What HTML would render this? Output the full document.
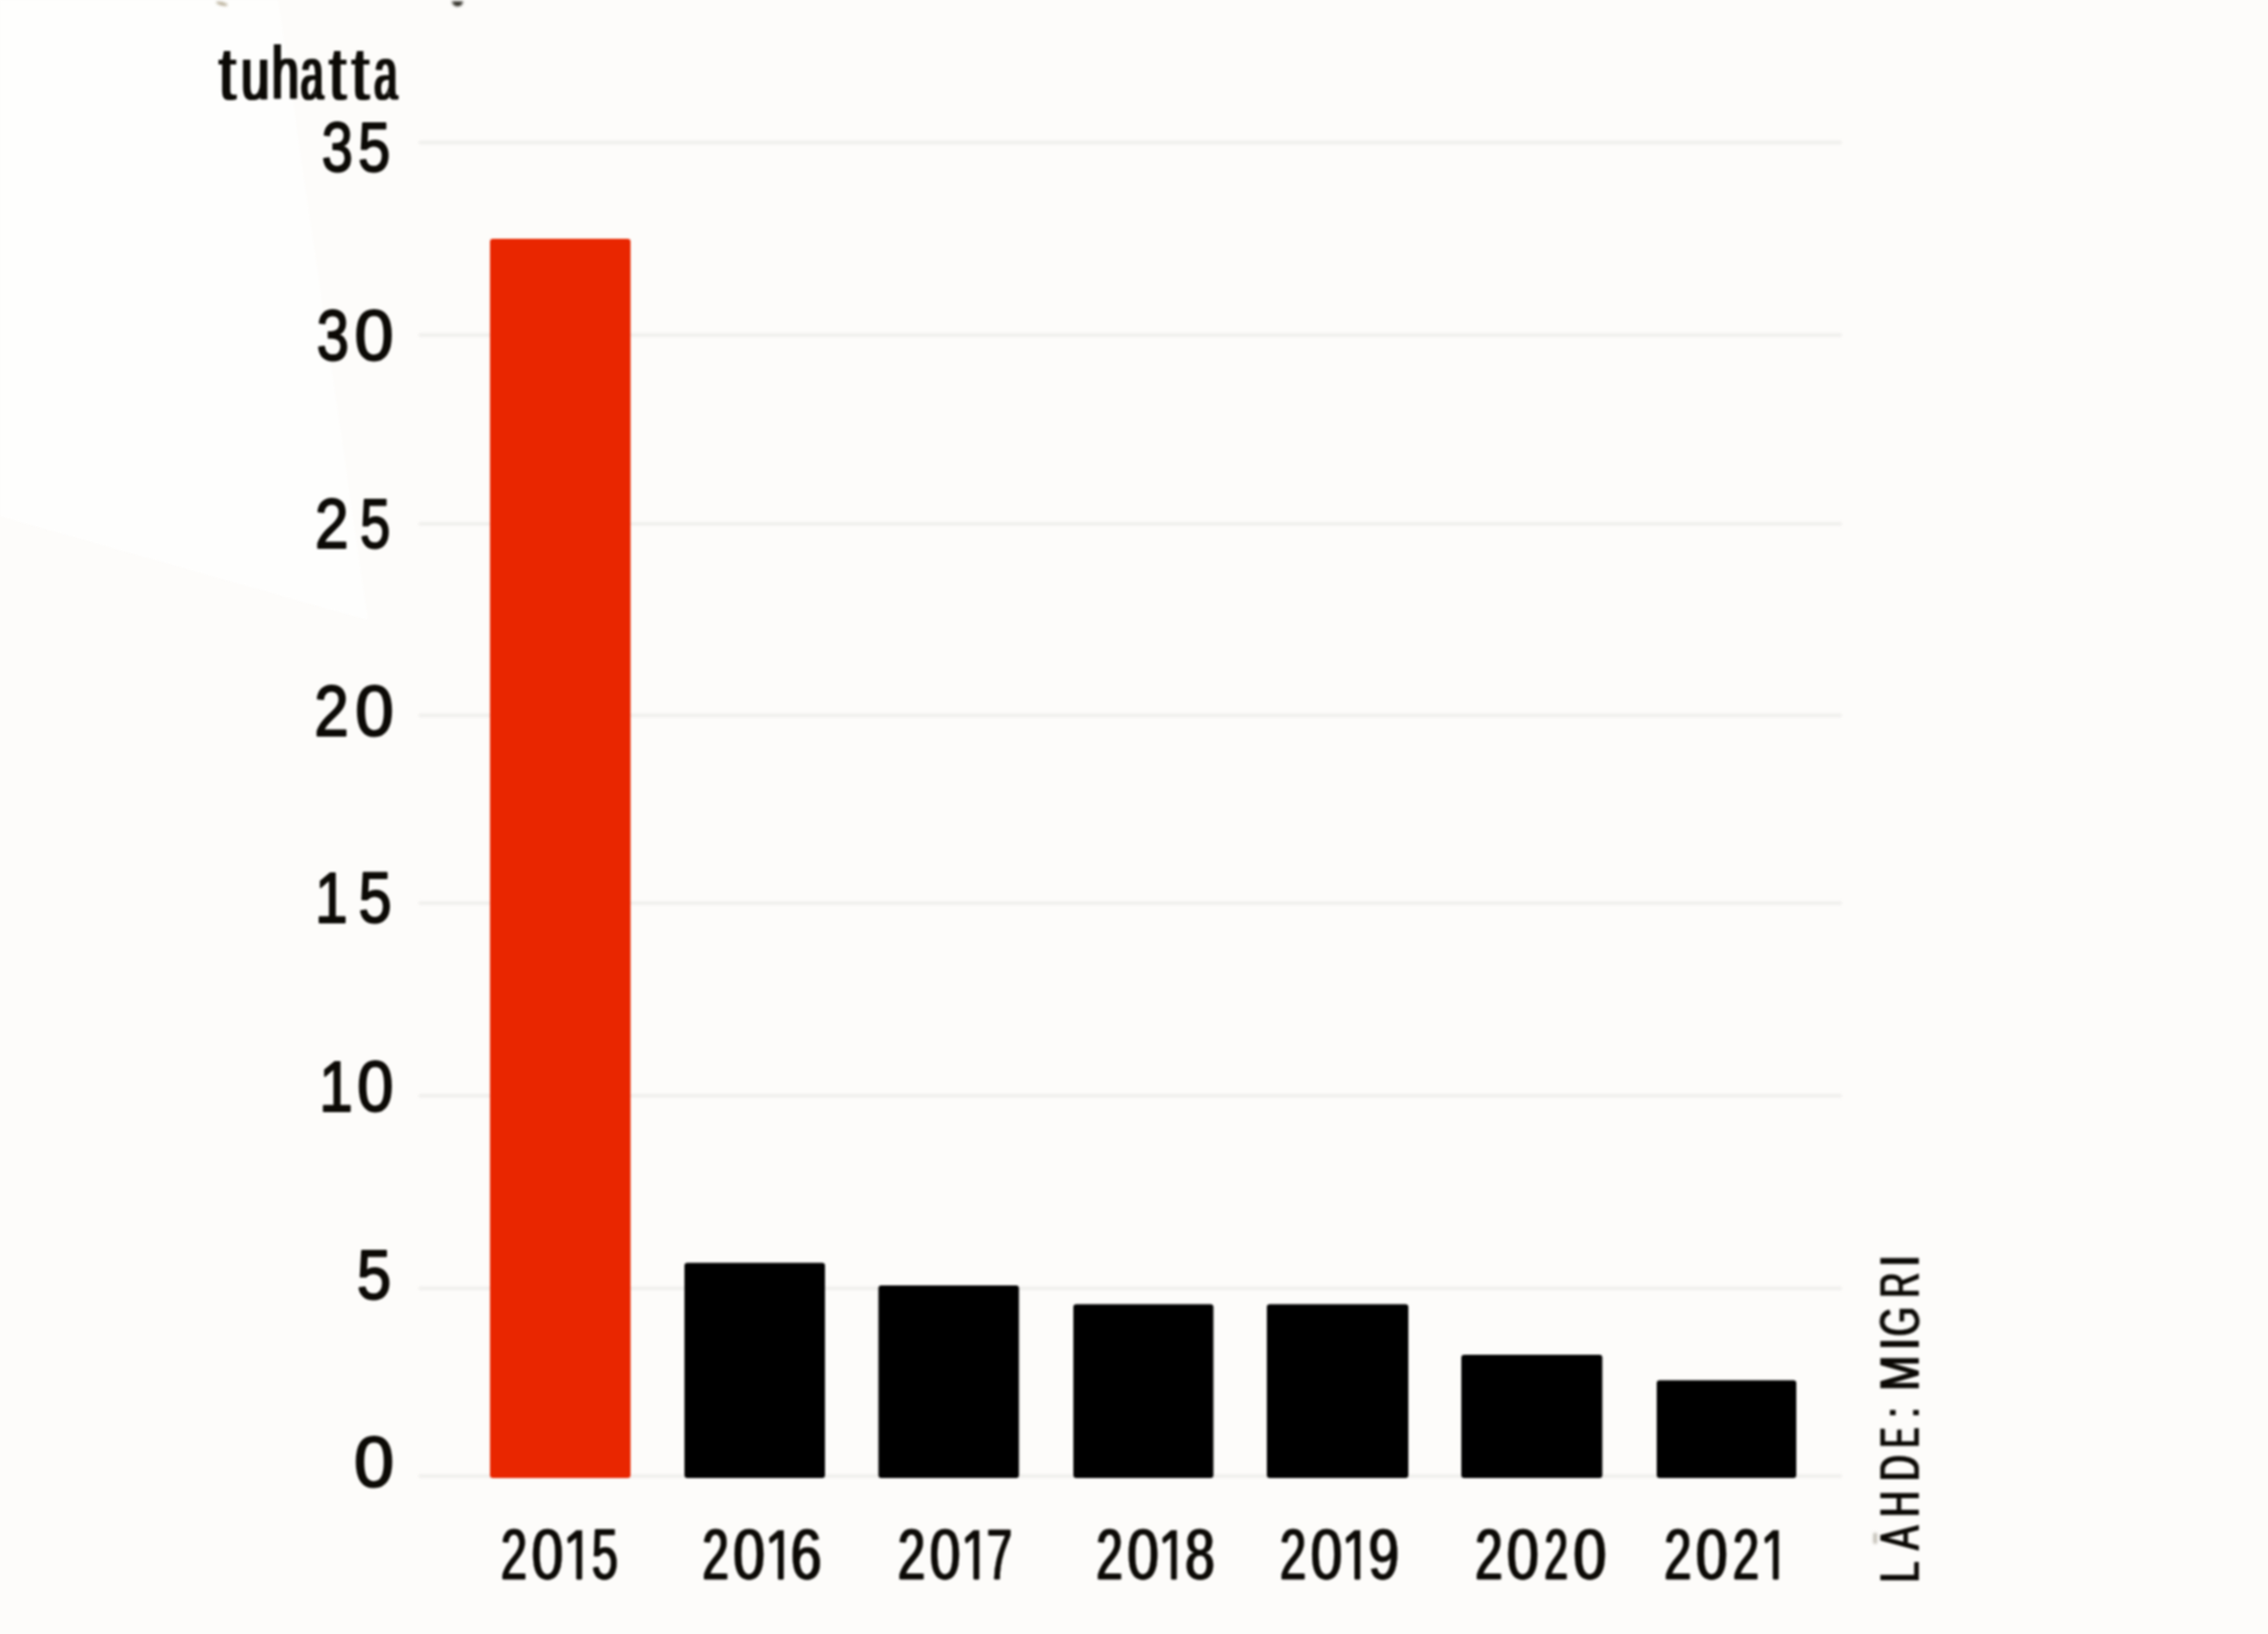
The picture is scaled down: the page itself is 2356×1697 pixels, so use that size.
<!DOCTYPE html>
<html><head><meta charset="utf-8">
<style>
html,body{margin:0;padding:0;background:#fdfcfa;}
body{width:2356px;height:1697px;overflow:hidden;position:relative;font-family:"Liberation Sans",sans-serif;}
svg{position:absolute;left:0;top:0;display:block}
text{font-family:"Liberation Sans",sans-serif;fill:#0c0a06}
</style></head><body>
<svg width="2356" height="1697" viewBox="0 0 2356 1697">
<defs>
<filter id="b1" color-interpolation-filters="sRGB" x="-5%" y="-50%" width="110%" height="200%"><feGaussianBlur stdDeviation="1"/></filter>
<filter id="b2" color-interpolation-filters="sRGB" x="-50%" y="-50%" width="200%" height="200%"><feGaussianBlur stdDeviation="0.9"/></filter>
<filter id="soft" color-interpolation-filters="sRGB" x="-2%" y="-2%" width="104%" height="104%"><feGaussianBlur stdDeviation="1.0"/></filter>
</defs>
<rect x="0" y="0" width="2356" height="1697" fill="#fdfcfa"/>
<!-- slightly whiter wedge, top-left -->
<polygon points="0,0 289,0 382,644 0,536" fill="#fefefd" filter="url(#b2)"/>
<g filter="url(#soft)">
<!-- gridlines -->
<g stroke="#e9e8e5" stroke-width="2.6" fill="none" filter="url(#b1)">
<line x1="435" x2="1913" y1="148" y2="148"/>
<line x1="435" x2="1913" y1="348" y2="348"/>
<line x1="435" x2="1913" y1="544" y2="544"/>
<line x1="435" x2="1913" y1="743" y2="743"/>
<line x1="435" x2="1913" y1="938" y2="938"/>
<line x1="435" x2="1913" y1="1138" y2="1138"/>
<line x1="435" x2="1913" y1="1338" y2="1338"/>
<line x1="435" x2="1913" y1="1533" y2="1533"/>
</g>
<line x1="1893" x2="1913" y1="1533.2" y2="1533.2" stroke="#d9d8d5" stroke-width="2.4" filter="url(#b1)"/>
<!-- bars -->
<rect x="509" y="248" width="146" height="1287" rx="3" fill="#e92600"/>
<g fill="#000">
<rect x="711" y="1311.5" width="146" height="223.5" rx="3"/>
<rect x="912.5" y="1335" width="146" height="200" rx="3"/>
<rect x="1115" y="1354.5" width="145.5" height="180.5" rx="3"/>
<rect x="1316" y="1354.5" width="147" height="180.5" rx="3"/>
<rect x="1518" y="1407" width="146.5" height="128" rx="3"/>
<rect x="1721" y="1433.5" width="145" height="101.5" rx="3"/>
</g>
<!-- y axis labels -->
<text transform="matrix(0.5815 0 0 0.7174 334.20 177.90)" font-size="100" stroke="#0c0a06" stroke-width="2.8" stroke-linejoin="round">3</text>
<text transform="matrix(0.6014 0 0 0.7174 372.03 177.90)" font-size="100" stroke="#0c0a06" stroke-width="2.8" stroke-linejoin="round">5</text>
<text transform="matrix(0.6034 0 0 0.7323 328.95 373.66)" font-size="100" stroke="#0c0a06" stroke-width="2.8" stroke-linejoin="round">3</text>
<text transform="matrix(0.7292 0 0 0.7323 368.17 373.66)" font-size="100" stroke="#0c0a06" stroke-width="2.8" stroke-linejoin="round">0</text>
<text transform="matrix(0.6266 0 0 0.7283 327.13 568.87)" font-size="100" stroke="#0c0a06" stroke-width="2.8" stroke-linejoin="round">2</text>
<text transform="matrix(0.5656 0 0 0.7283 373.93 568.87)" font-size="100" stroke="#0c0a06" stroke-width="2.8" stroke-linejoin="round">5</text>
<text transform="matrix(0.6431 0 0 0.7391 326.57 763.94)" font-size="100" stroke="#0c0a06" stroke-width="2.8" stroke-linejoin="round">2</text>
<text transform="matrix(0.7193 0 0 0.7391 368.90 763.94)" font-size="100" stroke="#0c0a06" stroke-width="2.8" stroke-linejoin="round">0</text>
<text transform="matrix(0.6098 0 0 0.7385 327.21 958.44)" font-size="100" stroke="#0c0a06" stroke-width="2.8" stroke-linejoin="round">1</text>
<text transform="matrix(0.6174 0 0 0.7385 372.39 958.44)" font-size="100" stroke="#0c0a06" stroke-width="2.8" stroke-linejoin="round">5</text>
<text transform="matrix(0.6294 0 0 0.7337 331.49 1153.66)" font-size="100" stroke="#0c0a06" stroke-width="2.8" stroke-linejoin="round">1</text>
<text transform="matrix(0.6778 0 0 0.7337 371.10 1153.66)" font-size="100" stroke="#0c0a06" stroke-width="2.8" stroke-linejoin="round">0</text>
<text transform="matrix(0.6393 0 0 0.7303 370.84 1348.56)" font-size="100" stroke="#0c0a06" stroke-width="2.8" stroke-linejoin="round">5</text>
<text transform="matrix(0.7470 0 0 0.7459 367.73 1543.63)" font-size="100" stroke="#0c0a06" stroke-width="2.8" stroke-linejoin="round">0</text>
<!-- x axis labels -->
<text transform="matrix(0.4907 0 0 0.7405 519.45 1639.69)" font-size="100" stroke="#0c0a06" stroke-width="0.5" stroke-linejoin="round">2</text>
<text transform="matrix(0.4907 0 0 0.7405 521.05 1639.69)" font-size="100" stroke="#0c0a06" stroke-width="0.5" stroke-linejoin="round">2</text>
<text transform="matrix(0.5921 0 0 0.7405 551.44 1639.69)" font-size="100" stroke="#0c0a06" stroke-width="0.5" stroke-linejoin="round">0</text>
<text transform="matrix(0.5921 0 0 0.7405 553.04 1639.69)" font-size="100" stroke="#0c0a06" stroke-width="0.5" stroke-linejoin="round">0</text>
<text transform="matrix(0.4884 0 0 0.7405 613.97 1639.69)" font-size="100" stroke="#0c0a06" stroke-width="0.5" stroke-linejoin="round">5</text>
<text transform="matrix(0.4884 0 0 0.7405 615.57 1639.69)" font-size="100" stroke="#0c0a06" stroke-width="0.5" stroke-linejoin="round">5</text>
<path fill="#0c0a06" d="M598.60 1589.30 L604.70 1589.30 L604.70 1639.20 Q604.70 1640.40 603.50 1640.40 L599.80 1640.40 Q598.60 1640.40 598.60 1639.20 L598.60 1597.20 L592.00 1602.60 Q590.00 1603.30 589.60 1601.20 L589.40 1598.20 Q589.30 1596.60 591.00 1595.80 Z"/>
<text transform="matrix(0.4929 0 0 0.7405 728.84 1639.69)" font-size="100" stroke="#0c0a06" stroke-width="0.5" stroke-linejoin="round">2</text>
<text transform="matrix(0.4929 0 0 0.7405 730.44 1639.69)" font-size="100" stroke="#0c0a06" stroke-width="0.5" stroke-linejoin="round">2</text>
<text transform="matrix(0.5921 0 0 0.7405 760.84 1639.69)" font-size="100" stroke="#0c0a06" stroke-width="0.5" stroke-linejoin="round">0</text>
<text transform="matrix(0.5921 0 0 0.7405 762.44 1639.69)" font-size="100" stroke="#0c0a06" stroke-width="0.5" stroke-linejoin="round">0</text>
<text transform="matrix(0.5767 0 0 0.7405 820.62 1639.69)" font-size="100" stroke="#0c0a06" stroke-width="0.5" stroke-linejoin="round">6</text>
<text transform="matrix(0.5767 0 0 0.7405 822.22 1639.69)" font-size="100" stroke="#0c0a06" stroke-width="0.5" stroke-linejoin="round">6</text>
<path fill="#0c0a06" d="M808.10 1589.30 L814.20 1589.30 L814.20 1639.20 Q814.20 1640.40 813.00 1640.40 L809.30 1640.40 Q808.10 1640.40 808.10 1639.20 L808.10 1597.20 L801.60 1602.60 Q799.60 1603.30 799.20 1601.20 L799.00 1598.20 Q798.90 1596.60 800.60 1595.80 Z"/>
<text transform="matrix(0.5124 0 0 0.7405 931.85 1639.69)" font-size="100" stroke="#0c0a06" stroke-width="0.5" stroke-linejoin="round">2</text>
<text transform="matrix(0.5124 0 0 0.7405 933.45 1639.69)" font-size="100" stroke="#0c0a06" stroke-width="0.5" stroke-linejoin="round">2</text>
<text transform="matrix(0.5735 0 0 0.7405 964.90 1639.69)" font-size="100" stroke="#0c0a06" stroke-width="0.5" stroke-linejoin="round">0</text>
<text transform="matrix(0.5735 0 0 0.7405 966.50 1639.69)" font-size="100" stroke="#0c0a06" stroke-width="0.5" stroke-linejoin="round">0</text>
<text transform="matrix(0.4765 0 0 0.7405 1024.18 1639.69)" font-size="100" stroke="#0c0a06" stroke-width="0.5" stroke-linejoin="round">7</text>
<text transform="matrix(0.4765 0 0 0.7405 1025.78 1639.69)" font-size="100" stroke="#0c0a06" stroke-width="0.5" stroke-linejoin="round">7</text>
<path fill="#0c0a06" d="M1011.20 1589.30 L1017.30 1589.30 L1017.30 1639.20 Q1017.30 1640.40 1016.10 1640.40 L1012.40 1640.40 Q1011.20 1640.40 1011.20 1639.20 L1011.20 1597.20 L1005.00 1602.60 Q1003.00 1603.30 1002.60 1601.20 L1002.40 1598.20 Q1002.30 1596.60 1004.00 1595.80 Z"/>
<text transform="matrix(0.4929 0 0 0.7405 1138.04 1639.69)" font-size="100" stroke="#0c0a06" stroke-width="0.5" stroke-linejoin="round">2</text>
<text transform="matrix(0.4929 0 0 0.7405 1139.64 1639.69)" font-size="100" stroke="#0c0a06" stroke-width="0.5" stroke-linejoin="round">2</text>
<text transform="matrix(0.5900 0 0 0.7405 1170.14 1639.69)" font-size="100" stroke="#0c0a06" stroke-width="0.5" stroke-linejoin="round">0</text>
<text transform="matrix(0.5900 0 0 0.7405 1171.74 1639.69)" font-size="100" stroke="#0c0a06" stroke-width="0.5" stroke-linejoin="round">0</text>
<text transform="matrix(0.5504 0 0 0.7405 1230.35 1639.69)" font-size="100" stroke="#0c0a06" stroke-width="0.5" stroke-linejoin="round">8</text>
<text transform="matrix(0.5504 0 0 0.7405 1231.95 1639.69)" font-size="100" stroke="#0c0a06" stroke-width="0.5" stroke-linejoin="round">8</text>
<path fill="#0c0a06" d="M1216.40 1589.30 L1222.50 1589.30 L1222.50 1639.20 Q1222.50 1640.40 1221.30 1640.40 L1217.60 1640.40 Q1216.40 1640.40 1216.40 1639.20 L1216.40 1597.20 L1210.10 1602.60 Q1208.10 1603.30 1207.70 1601.20 L1207.50 1598.20 Q1207.40 1596.60 1209.10 1595.80 Z"/>
<text transform="matrix(0.4929 0 0 0.7405 1328.64 1639.69)" font-size="100" stroke="#0c0a06" stroke-width="0.5" stroke-linejoin="round">2</text>
<text transform="matrix(0.4929 0 0 0.7405 1330.24 1639.69)" font-size="100" stroke="#0c0a06" stroke-width="0.5" stroke-linejoin="round">2</text>
<text transform="matrix(0.5921 0 0 0.7405 1360.64 1639.69)" font-size="100" stroke="#0c0a06" stroke-width="0.5" stroke-linejoin="round">0</text>
<text transform="matrix(0.5921 0 0 0.7405 1362.24 1639.69)" font-size="100" stroke="#0c0a06" stroke-width="0.5" stroke-linejoin="round">0</text>
<text transform="matrix(0.5740 0 0 0.7405 1420.65 1639.69)" font-size="100" stroke="#0c0a06" stroke-width="0.5" stroke-linejoin="round">9</text>
<text transform="matrix(0.5740 0 0 0.7405 1422.25 1639.69)" font-size="100" stroke="#0c0a06" stroke-width="0.5" stroke-linejoin="round">9</text>
<path fill="#0c0a06" d="M1407.00 1589.30 L1413.10 1589.30 L1413.10 1639.20 Q1413.10 1640.40 1411.90 1640.40 L1408.20 1640.40 Q1407.00 1640.40 1407.00 1639.20 L1407.00 1597.20 L1400.60 1602.60 Q1398.60 1603.30 1398.20 1601.20 L1398.00 1598.20 Q1397.90 1596.60 1399.60 1595.80 Z"/>
<text transform="matrix(0.5124 0 0 0.7405 1531.55 1639.69)" font-size="100" stroke="#0c0a06" stroke-width="0.5" stroke-linejoin="round">2</text>
<text transform="matrix(0.5124 0 0 0.7405 1533.15 1639.69)" font-size="100" stroke="#0c0a06" stroke-width="0.5" stroke-linejoin="round">2</text>
<text transform="matrix(0.6004 0 0 0.7405 1564.50 1639.69)" font-size="100" stroke="#0c0a06" stroke-width="0.5" stroke-linejoin="round">0</text>
<text transform="matrix(0.6004 0 0 0.7405 1566.10 1639.69)" font-size="100" stroke="#0c0a06" stroke-width="0.5" stroke-linejoin="round">0</text>
<text transform="matrix(0.4386 0 0 0.7405 1603.60 1639.69)" font-size="100" stroke="#0c0a06" stroke-width="0.5" stroke-linejoin="round">2</text>
<text transform="matrix(0.4386 0 0 0.7405 1605.20 1639.69)" font-size="100" stroke="#0c0a06" stroke-width="0.5" stroke-linejoin="round">2</text>
<text transform="matrix(0.6169 0 0 0.7405 1633.54 1639.69)" font-size="100" stroke="#0c0a06" stroke-width="0.5" stroke-linejoin="round">0</text>
<text transform="matrix(0.6169 0 0 0.7405 1635.14 1639.69)" font-size="100" stroke="#0c0a06" stroke-width="0.5" stroke-linejoin="round">0</text>
<text transform="matrix(0.5102 0 0 0.7405 1727.96 1639.69)" font-size="100" stroke="#0c0a06" stroke-width="0.5" stroke-linejoin="round">2</text>
<text transform="matrix(0.5102 0 0 0.7405 1729.56 1639.69)" font-size="100" stroke="#0c0a06" stroke-width="0.5" stroke-linejoin="round">2</text>
<text transform="matrix(0.5921 0 0 0.7405 1760.84 1639.69)" font-size="100" stroke="#0c0a06" stroke-width="0.5" stroke-linejoin="round">0</text>
<text transform="matrix(0.5921 0 0 0.7405 1762.44 1639.69)" font-size="100" stroke="#0c0a06" stroke-width="0.5" stroke-linejoin="round">0</text>
<text transform="matrix(0.4929 0 0 0.7405 1799.24 1639.69)" font-size="100" stroke="#0c0a06" stroke-width="0.5" stroke-linejoin="round">2</text>
<text transform="matrix(0.4929 0 0 0.7405 1800.84 1639.69)" font-size="100" stroke="#0c0a06" stroke-width="0.5" stroke-linejoin="round">2</text>
<path fill="#0c0a06" d="M1841.60 1589.30 L1847.70 1589.30 L1847.70 1639.20 Q1847.70 1640.40 1846.50 1640.40 L1842.80 1640.40 Q1841.60 1640.40 1841.60 1639.20 L1841.60 1597.20 L1835.60 1602.60 Q1833.60 1603.30 1833.20 1601.20 L1833.00 1598.20 Q1832.90 1596.60 1834.60 1595.80 Z"/>
<!-- unit -->
<text transform="matrix(0.6265 0 0 0.7811 226.05 103.20)" font-size="100">t</text>
<text transform="matrix(0.6265 0 0 0.7811 229.05 103.20)" font-size="100">t</text>
<text transform="matrix(0.5273 0 0 0.7811 248.98 103.20)" font-size="100">u</text>
<text transform="matrix(0.5273 0 0 0.7811 251.98 103.20)" font-size="100">u</text>
<text transform="matrix(0.5001 0 0 0.7811 281.03 103.20)" font-size="100">h</text>
<text transform="matrix(0.5001 0 0 0.7811 284.03 103.20)" font-size="100">h</text>
<text transform="matrix(0.4186 0 0 0.7811 310.92 103.20)" font-size="100">a</text>
<text transform="matrix(0.4186 0 0 0.7811 313.92 103.20)" font-size="100">a</text>
<text transform="matrix(0.6265 0 0 0.7811 340.45 103.20)" font-size="100">t</text>
<text transform="matrix(0.6265 0 0 0.7811 343.45 103.20)" font-size="100">t</text>
<text transform="matrix(0.6422 0 0 0.7811 364.03 103.20)" font-size="100">t</text>
<text transform="matrix(0.6422 0 0 0.7811 367.03 103.20)" font-size="100">t</text>
<text transform="matrix(0.4283 0 0 0.7811 387.28 103.20)" font-size="100">a</text>
<text transform="matrix(0.4283 0 0 0.7811 390.28 103.20)" font-size="100">a</text>
<!-- source -->
<g transform="translate(1993.3,1642) rotate(-90)">
<text transform="matrix(0.3888 0 0 0.5708 -2.31 -0.11)" font-size="100" stroke="#0c0a06" stroke-width="0.4" stroke-linejoin="round">L</text>
<text transform="matrix(0.3888 0 0 0.5708 -0.61 -0.11)" font-size="100" stroke="#0c0a06" stroke-width="0.4" stroke-linejoin="round">L</text>
<text transform="matrix(0.3793 0 0 0.5708 31.40 -0.11)" font-size="100" stroke="#0c0a06" stroke-width="0.4" stroke-linejoin="round">A</text>
<text transform="matrix(0.3793 0 0 0.5708 33.10 -0.11)" font-size="100" stroke="#0c0a06" stroke-width="0.4" stroke-linejoin="round">A</text>
<text transform="matrix(0.3715 0 0 0.5708 65.83 -0.11)" font-size="100" stroke="#0c0a06" stroke-width="0.4" stroke-linejoin="round">H</text>
<text transform="matrix(0.3715 0 0 0.5708 67.53 -0.11)" font-size="100" stroke="#0c0a06" stroke-width="0.4" stroke-linejoin="round">H</text>
<text transform="matrix(0.3723 0 0 0.5708 103.12 -0.11)" font-size="100" stroke="#0c0a06" stroke-width="0.4" stroke-linejoin="round">D</text>
<text transform="matrix(0.3723 0 0 0.5708 104.82 -0.11)" font-size="100" stroke="#0c0a06" stroke-width="0.4" stroke-linejoin="round">D</text>
<text transform="matrix(0.3040 0 0 0.5708 137.97 -0.11)" font-size="100" stroke="#0c0a06" stroke-width="0.4" stroke-linejoin="round">E</text>
<text transform="matrix(0.3040 0 0 0.5708 139.67 -0.11)" font-size="100" stroke="#0c0a06" stroke-width="0.4" stroke-linejoin="round">E</text>
<text transform="matrix(0.3830 0 0 0.5708 168.78 -0.11)" font-size="100" stroke="#0c0a06" stroke-width="0.4" stroke-linejoin="round">:</text>
<text transform="matrix(0.3830 0 0 0.5708 170.48 -0.11)" font-size="100" stroke="#0c0a06" stroke-width="0.4" stroke-linejoin="round">:</text>
<text transform="matrix(0.4384 0 0 0.5708 196.69 -0.11)" font-size="100" stroke="#0c0a06" stroke-width="0.4" stroke-linejoin="round">M</text>
<text transform="matrix(0.4384 0 0 0.5708 198.39 -0.11)" font-size="100" stroke="#0c0a06" stroke-width="0.4" stroke-linejoin="round">M</text>
<text transform="matrix(0.4524 0 0 0.5708 239.02 -0.11)" font-size="100" stroke="#0c0a06" stroke-width="0.4" stroke-linejoin="round">I</text>
<text transform="matrix(0.4524 0 0 0.5708 240.72 -0.11)" font-size="100" stroke="#0c0a06" stroke-width="0.4" stroke-linejoin="round">I</text>
<text transform="matrix(0.3928 0 0 0.5708 253.40 -0.11)" font-size="100" stroke="#0c0a06" stroke-width="0.4" stroke-linejoin="round">G</text>
<text transform="matrix(0.3928 0 0 0.5708 255.10 -0.11)" font-size="100" stroke="#0c0a06" stroke-width="0.4" stroke-linejoin="round">G</text>
<text transform="matrix(0.3614 0 0 0.5708 293.41 -0.11)" font-size="100" stroke="#0c0a06" stroke-width="0.4" stroke-linejoin="round">R</text>
<text transform="matrix(0.3614 0 0 0.5708 295.11 -0.11)" font-size="100" stroke="#0c0a06" stroke-width="0.4" stroke-linejoin="round">R</text>
<text transform="matrix(0.4524 0 0 0.5708 325.32 -0.11)" font-size="100" stroke="#0c0a06" stroke-width="0.4" stroke-linejoin="round">I</text>
<text transform="matrix(0.4524 0 0 0.5708 327.02 -0.11)" font-size="100" stroke="#0c0a06" stroke-width="0.4" stroke-linejoin="round">I</text>
<rect x="38.6" y="-47.2" width="11.6" height="3.6" rx="1.5" fill="#bdb9af" filter="url(#b2)"/>
</g>
<!-- clipped remnants of text above -->
<ellipse cx="230.5" cy="3.8" rx="6.2" ry="1.6" transform="rotate(14 230.5 3.8)" fill="#ada289" filter="url(#b2)"/>
<path d="M469.2 1.4 L481.3 1.4 Q479.5 6.6 475.2 6.6 Q471 6.2 469.2 1.4 Z" fill="#24221a" filter="url(#b2)"/>
</g>
</svg>
</body></html>
